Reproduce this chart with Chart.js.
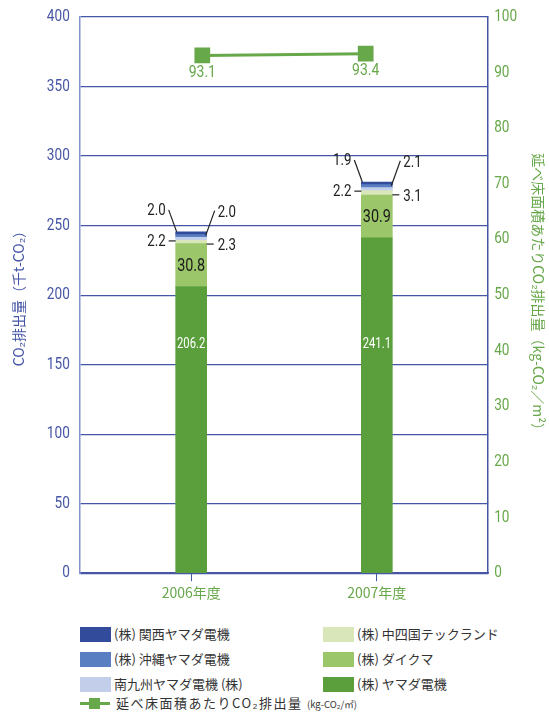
<!DOCTYPE html>
<html>
<head>
<meta charset="utf-8">
<script src="https://cdn.jsdelivr.net/npm/chart.js@4/dist/chart.umd.min.js"></script>
<style>
  body { margin: 0; background: #fff; width: 549px; height: 718px; overflow: hidden; position: relative; font-family: "Noto Sans CJK JP", sans-serif; }
  #wrap { position: absolute; left: 0; top: 0; width: 549px; height: 612px; }
  .item { position: absolute; font-size: 13px; color: #333; line-height: 16px; white-space: nowrap; }
  .sw { position: absolute; width: 31px; height: 15px; }
  .small { font-size: 9.5px; letter-spacing: 0; }
</style>
</head>
<body>
<div id="wrap"><canvas id="chart"></canvas></div>
<div id="legend"></div>
<script>
const years = ['2006年度', '2007年度'];
const kansai = [2.0, 1.9];
const okinawa = [2.0, 2.1];
const minamiKyushu = [2.2, 2.2];
const chushikoku = [2.3, 3.1];
const daikuma = [30.8, 30.9];
const yamada = [206.2, 241.1];
const perArea = [93.1, 93.4];

const BLUE = '#4656a6';
const GREEN = '#67a84a';
const NUM = 'Roboto, "Noto Sans", sans-serif';

const colors = {
  yamada: '#5b9f3d',
  daikuma: '#9cc66a',
  chushikoku: '#d8e6b9',
  minamiKyushu: '#c3cfea',
  okinawa: '#5a7ec2',
  kansai: '#324b9b'
};

function barSet(label, values, color) {
  return {
    type: 'bar',
    label: label,
    data: values.map((v, i) => ({ x: i, y: v })),
    backgroundColor: color,
    barThickness: 31,
    yAxisID: 'y',
    order: 2
  };
}

const datasets = [
  barSet('(株) ヤマダ電機', yamada, colors.yamada),
  barSet('(株) ダイクマ', daikuma, colors.daikuma),
  barSet('(株) 中四国テックランド', chushikoku, colors.chushikoku),
  barSet('南九州ヤマダ電機 (株)', minamiKyushu, colors.minamiKyushu),
  barSet('(株) 沖縄ヤマダ電機', okinawa, colors.okinawa),
  barSet('(株) 関西ヤマダ電機', kansai, colors.kansai),
  {
    type: 'line',
    label: '延べ床面積あたりCO₂排出量',
    // markers sit a little inside the bar centres in the original
    data: perArea.map((v, i) => ({ x: i + (i === 0 ? 0.06 : -0.06), y: v })),
    borderColor: GREEN,
    backgroundColor: GREEN,
    borderWidth: 3,
    pointStyle: 'rect',
    pointRadius: 9,
    yAxisID: 'y2',
    order: 1
  }
];

// narrow numbers: squeeze text horizontally
function narrow(ctx, text, x, y, align, size, sx) {
  ctx.save();
  ctx.font = size + 'px ' + NUM;
  ctx.textAlign = align;
  ctx.textBaseline = 'middle';
  ctx.translate(x, y);
  ctx.scale(sx, 1);
  ctx.fillText(text, 0, 0);
  ctx.restore();
}

function line(ctx, x1, y1, x2, y2) {
  ctx.beginPath();
  ctx.moveTo(x1, y1);
  ctx.lineTo(x2, y2);
  ctx.stroke();
}

const labelPlugin = {
  id: 'labels',
  afterDraw(chart) {
    const ctx = chart.ctx;
    const y = chart.scales.y;
    const y2 = chart.scales.y2;
    const area = chart.chartArea;
    ctx.save();

    // axis numbers
    ctx.fillStyle = BLUE;
    y.ticks.forEach((t) => {
      narrow(ctx, String(t.value), area.left - 10, y.getPixelForValue(t.value), 'right', 16, 0.85);
    });
    ctx.fillStyle = GREEN;
    y2.ticks.forEach((t) => {
      narrow(ctx, String(t.value), area.right + 6, y2.getPixelForValue(t.value), 'left', 16, 0.85);
    });

    ctx.strokeStyle = '#222';
    ctx.lineWidth = 1.2;
    for (let i = 0; i < years.length; i++) {
      const yb = chart.getDatasetMeta(0).data[i];
      ctx.fillStyle = '#fff';
      narrow(ctx, yamada[i].toFixed(1), yb.x, y.getPixelForValue(165), 'center', 15, 0.75);

      const db = chart.getDatasetMeta(1).data[i];
      ctx.fillStyle = '#1a1a1a';
      narrow(ctx, daikuma[i].toFixed(1), db.x, (db.y + db.base) / 2 + 1, 'center', 18, 0.8);

      ctx.fillStyle = '#222';
      // kansai, top left with leader
      const kb = chart.getDatasetMeta(5).data[i];
      const kl = kb.x - kb.width / 2;
      line(ctx, kl - 7, kb.y - 22, kl + 1, kb.y);
      narrow(ctx, kansai[i].toFixed(1), kl - 10, kb.y - 21, 'right', 17, 0.78);

      // okinawa, top right with leader
      const ob = chart.getDatasetMeta(4).data[i];
      const or = ob.x + ob.width / 2;
      line(ctx, or + 8, ob.y - 24, or - 1, ob.y + 1);
      narrow(ctx, okinawa[i].toFixed(1), or + 11, ob.y - 22, 'left', 17, 0.78);

      // minami kyushu, left dash
      const mb = chart.getDatasetMeta(3).data[i];
      const ml = mb.x - mb.width / 2;
      const my = (mb.y + mb.base) / 2 + 2;
      line(ctx, ml - 7, my, ml, my);
      narrow(ctx, minamiKyushu[i].toFixed(1), ml - 10, my + 1, 'right', 17, 0.78);

      // chushikoku, right dash
      const cb = chart.getDatasetMeta(2).data[i];
      const cr = cb.x + cb.width / 2;
      const cy = (cb.y + cb.base) / 2 + 2;
      line(ctx, cr, cy, cr + 7, cy);
      narrow(ctx, chushikoku[i].toFixed(1), cr + 11, cy + 2, 'left', 17, 0.78);
    }

    ctx.fillStyle = GREEN;
    chart.getDatasetMeta(6).data.forEach((p, i) => {
      narrow(ctx, perArea[i].toFixed(1), p.x, p.y + 17, 'center', 17, 0.82);
    });
    ctx.restore();
  }
};

new Chart(document.getElementById('chart'), {
  data: { datasets: datasets },
  options: {
    responsive: true,
    maintainAspectRatio: false,
    animation: false,
    layout: { padding: { top: 17, left: 10, right: 2, bottom: 8 } },
    plugins: { legend: { display: false }, tooltip: { enabled: false } },
    scales: {
      x: {
        type: 'linear',
        stacked: true,
        offset: false,
        min: -0.6,
        max: 1.6,
        afterBuildTicks: (s) => { s.ticks = [{ value: 0 }, { value: 1 }]; },
        ticks: {
          callback: (v) => years[v] || '',
          color: GREEN,
          font: { family: '"Noto Sans CJK JP", sans-serif', size: 14 },
          padding: 3,
          maxRotation: 0
        },
        grid: { offset: false, drawOnChartArea: false, drawTicks: true, tickLength: 8, color: BLUE },
        border: { color: BLUE, width: 1.5 }
      },
      y: {
        position: 'left',
        stacked: true,
        min: 0,
        max: 400,
        ticks: {
          stepSize: 50,
          color: 'rgba(0,0,0,0)',
          font: { family: NUM, size: 16, lineHeight: 0.5 },
          padding: 10
        },
        grid: { color: BLUE, lineWidth: 1.2, drawTicks: false },
        border: { color: '#8391cc', width: 1.5 },
        title: {
          display: true,
          text: 'CO₂排出量（千t-CO₂）',
          color: BLUE,
          font: { family: '"Noto Sans CJK JP", sans-serif', size: 14 },
          padding: { top: 0, bottom: 6 }
        }
      },
      y2: {
        position: 'right',
        min: 0,
        max: 100,
        ticks: {
          stepSize: 10,
          color: 'rgba(0,0,0,0)',
          font: { family: NUM, size: 16, lineHeight: 0.5 },
          padding: 6
        },
        grid: { drawOnChartArea: false, drawTicks: false },
        border: { color: BLUE, width: 1.5 },
        title: {
          display: true,
          text: '延べ床面積あたりCO₂排出量（kg-CO₂／m²）',
          color: GREEN,
          font: { family: '"Noto Sans CJK JP", sans-serif', size: 14 },
          padding: { top: 0, bottom: 3 }
        }
      }
    }
  },
  plugins: [labelPlugin]
});

// html legend
const legendItems = [
  { text: '(株) 関西ヤマダ電機', color: colors.kansai, x: 80, y: 627 },
  { text: '(株) 沖縄ヤマダ電機', color: colors.okinawa, x: 80, y: 652 },
  { text: '南九州ヤマダ電機 (株)', color: colors.minamiKyushu, x: 80, y: 677 },
  { text: '(株) 中四国テックランド', color: colors.chushikoku, x: 323, y: 627 },
  { text: '(株) ダイクマ', color: colors.daikuma, x: 323, y: 652 },
  { text: '(株) ヤマダ電機', color: colors.yamada, x: 323, y: 677 }
];
const legend = document.getElementById('legend');
legendItems.forEach((it) => {
  const sw = document.createElement('div');
  sw.className = 'sw';
  sw.style.left = it.x + 'px';
  sw.style.top = it.y + 'px';
  sw.style.background = it.color;
  legend.appendChild(sw);
  const t = document.createElement('div');
  t.className = 'item';
  t.style.left = (it.x + 34) + 'px';
  t.style.top = (it.y - 1) + 'px';
  t.textContent = it.text;
  legend.appendChild(t);
});
const ln = document.createElement('div');
ln.style.cssText = 'position:absolute;left:80px;top:702px;width:30px;height:3px;background:' + GREEN;
legend.appendChild(ln);
const sq = document.createElement('div');
sq.style.cssText = 'position:absolute;left:89px;top:698px;width:11px;height:11px;background:' + GREEN;
legend.appendChild(sq);
const lt = document.createElement('div');
lt.className = 'item';
lt.style.left = '116px';
lt.style.top = '695px';
lt.style.letterSpacing = '1.5px';
lt.innerHTML = '延べ床面積あたりCO₂排出量 <span class="small">(kg-CO₂/㎡)</span>';
legend.appendChild(lt);
</script>
</body>
</html>
